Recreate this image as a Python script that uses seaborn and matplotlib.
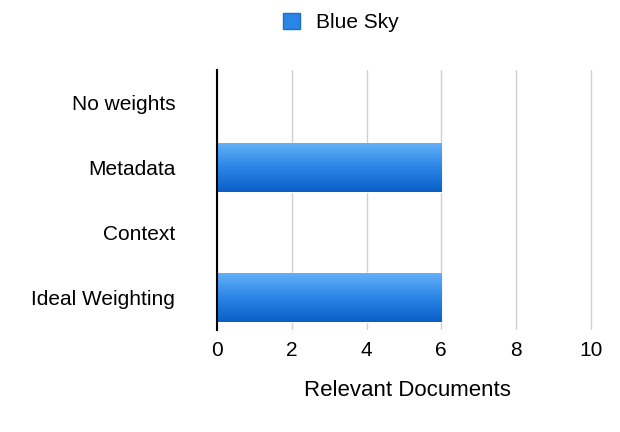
import matplotlib
matplotlib.use("Agg")
import matplotlib.pyplot as plt
import seaborn as sns
import numpy as np
import pandas as pd
from matplotlib.colors import LinearSegmentedColormap
from matplotlib.patches import Patch

categories = ["No weights", "Metadata", "Context", "Ideal Weighting"]
values = [0, 6, 0, 6]
series_name = "Blue Sky"
xticks = [0, 2, 4, 6, 8, 10]

sns.set_theme(style="white")
plt.rcParams['font.family'] = ['Liberation Sans', 'DejaVu Sans']
plt.rcParams['text.color'] = 'black'
plt.rcParams['xtick.color'] = 'black'
plt.rcParams['ytick.color'] = 'black'
plt.rcParams['axes.labelcolor'] = 'black'

df = pd.DataFrame({"cat": categories, "val": values})
fig = plt.figure(figsize=(6.2, 4.32), dpi=100)
ax = fig.add_axes([0.35, 0.236, 0.615, 0.602])
sns.barplot(data=df, x="val", y="cat", orient="h", color="#2f86e8", width=0.75, ax=ax)
ylim = ax.get_ylim()

cmap = LinearSegmentedColormap.from_list("g", ["#0a5ec6", "#2a85e6", "#63b0f7"])
grad = np.linspace(1, 0, 256).reshape(-1, 1)
for p in list(ax.patches):
    w = p.get_width()
    if w <= 0:
        continue
    x0, y0, h = p.get_x(), p.get_y(), p.get_height()
    im = ax.imshow(grad, cmap=cmap, aspect="auto", extent=[x0, x0 + w, y0 + h, y0],
                   origin="upper", zorder=p.get_zorder() + 0.1)
    im.set_clip_path(p)

ax.set_aspect("auto")
ax.set_ylim(ylim)
ax.set_xlim(0, 10.2)
ax.set_xticks(xticks)
ax.set_xticklabels([str(t) for t in xticks], fontsize=15)
ax.tick_params(axis="y", labelsize=15, length=0, pad=30)
ax.tick_params(axis="x", length=0, pad=8)
ax.set_ylabel("")
ax.set_xlabel("Relevant Documents", fontsize=16, labelpad=14)
ax.grid(axis="x", color="#d0d0d0", linewidth=1)
ax.set_axisbelow(True)
for s in ["top", "right", "bottom"]:
    ax.spines[s].set_visible(False)
ax.spines["left"].set_color("black")
ax.spines["left"].set_linewidth(1.5)
ax.spines["left"].set_zorder(5)

fig.legend(handles=[Patch(facecolor="#2a85e6", edgecolor="#1a6fd0", label=series_name)],
           loc="center", bbox_to_anchor=(0.55, 0.948), frameon=False, fontsize=15,
           handlelength=0.8, handleheight=0.8, handletextpad=0.8)
fig.savefig("out.png", dpi=100)
